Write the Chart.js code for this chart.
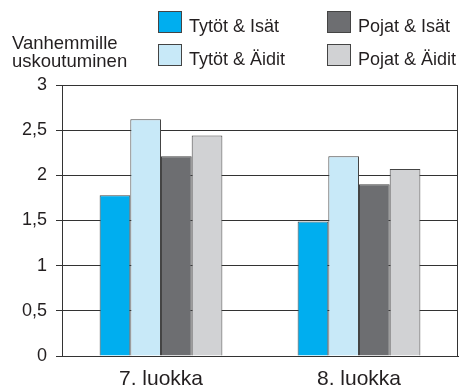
<!DOCTYPE html>
<html>
<head>
<meta charset="utf-8">
<script src="https://cdn.jsdelivr.net/npm/chart.js@4/dist/chart.umd.min.js"></script>
<style>
  html, body { margin: 0; padding: 0; background: #fff; }
  #wrap { width: 460px; height: 386px; position: relative; }
</style>
</head>
<body>
<div id="wrap"><canvas id="myChart"></canvas></div>
<script>
const categories = ['7. luokka', '8. luokka'];
const seriesNames = ['Tytöt & Isät', 'Tytöt & Äidit', 'Pojat & Isät', 'Pojat & Äidit'];
const tytotIsat = [1.78, 1.49];
const tytotAidit = [2.62, 2.21];
const pojatIsat = [2.21, 1.90];
const pojatAidit = [2.44, 2.07];
const yTicks = [0, 0.5, 1, 1.5, 2, 2.5, 3];
const yTitle = ['Vanhemmille', 'uskoutuminen'];

const colors = ['#00aeef', '#c8e9f8', '#6d6e71', '#d1d2d4'];
const ink = '#231f20';
const font = '"Liberation Sans", Arial, sans-serif';

// legend in two columns plus the two-line axis title, drawn by hand
const extras = {
  id: 'extras',
  afterDraw(chart) {
    const c = chart.ctx;
    const area = chart.chartArea;
    c.save();
    // right border of the plot
    c.strokeStyle = '#333';
    c.lineWidth = 1;
    c.beginPath();
    c.moveTo(Math.round(area.right) - 0.5, area.top);
    c.lineTo(Math.round(area.right) - 0.5, area.bottom);
    c.stroke();

    c.fillStyle = ink;
    c.font = '18.5px ' + font;
    c.textBaseline = 'alphabetic';
    c.textAlign = 'left';
    c.fillText(yTitle[0], 12, 49);
    c.fillText(yTitle[1], 12, 67);

    c.font = '18px ' + font;
    chart.data.datasets.forEach((ds, i) => {
      const col = Math.floor(i / 2);
      const row = i % 2;
      const x = col === 0 ? 158 : 327;
      const y = row === 0 ? 11 : 44;
      c.fillStyle = ds.backgroundColor;
      c.fillRect(x, y, 24, 22);
      c.strokeStyle = '#444';
      c.strokeRect(x + 0.5, y + 0.5, 23, 21);
      c.fillStyle = ink;
      c.fillText(ds.label, x + 31, y + 21);
    });
    c.restore();
  }
};

const ctx = document.getElementById('myChart').getContext('2d');
const myChart = new Chart(ctx, {
  type: 'bar',
  data: {
    labels: categories,
    datasets: [tytotIsat, tytotAidit, pojatIsat, pojatAidit].map((d, i) => ({
      label: seriesNames[i],
      data: d,
      backgroundColor: colors[i],
      borderColor: '#444',
      borderWidth: 1,
      barPercentage: 1,
      categoryPercentage: 0.62
    }))
  },
  options: {
    responsive: true,
    maintainAspectRatio: false,
    animation: false,
    layout: { padding: { top: 85, right: 2, left: 0, bottom: 0 } },
    plugins: {
      legend: { display: false },
      tooltip: { enabled: false }
    },
    scales: {
      x: {
        grid: { display: false },
        border: { color: '#333', width: 1 },
        ticks: { color: ink, font: { family: font, size: 21 }, padding: 3 },
        afterFit(scale) { scale.height = 30; }
      },
      y: {
        min: 0,
        max: 3,
        afterBuildTicks(scale) { scale.ticks = yTicks.map(v => ({ value: v })); },
        grid: { color: '#333', lineWidth: 1, tickLength: 6 },
        border: { color: '#333', width: 1 },
        ticks: {
          color: ink,
          font: { family: font, size: 18 },
          padding: 9,
          callback: v => String(v).replace('.', ',')
        },
        afterFit(scale) { scale.width = 62; }
      }
    }
  },
  plugins: [extras]
});
</script>
</body>
</html>
